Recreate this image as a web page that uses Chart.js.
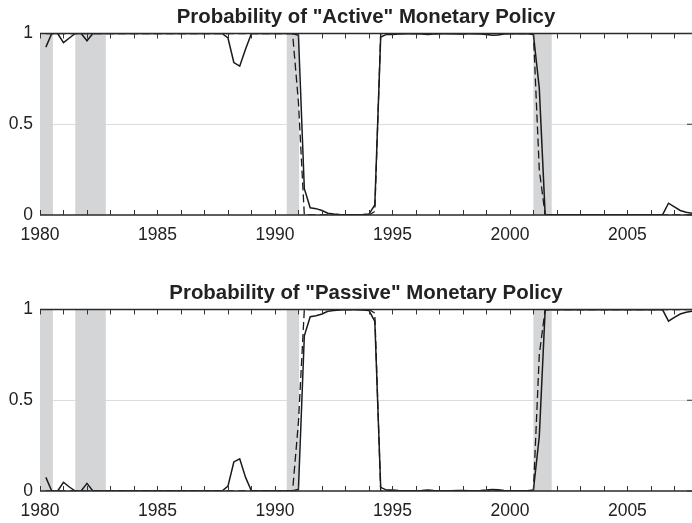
<!DOCTYPE html>
<html><head><meta charset="utf-8">
<script src="https://cdn.jsdelivr.net/npm/chart.js@4/dist/chart.umd.min.js"></script>
<style>
html,body{margin:0;padding:0;background:#fff;}
#wrap{width:692px;height:523px;position:relative;overflow:hidden;}
canvas{position:absolute;left:0;}
</style></head>
<body><div id="wrap">
<canvas id="c1" width="692" height="276" style="top:0"></canvas>
<canvas id="c2" width="692" height="247" style="top:276px"></canvas>
</div>
<script>
// ---- data (quarterly, first point 1980.25) ----
const firstQuarter = 1980.25;
const xTickLabels = [1980, 1985, 1990, 1995, 2000, 2005];
const yTickLabels = [0, 0.5, 1];
const recessionStart = [1980.0, 1981.5, 1990.5, 2001.0];
const recessionEnd   = [1980.55, 1982.8, 1991.03, 2001.78];
const titles = ['Probability of "Active" Monetary Policy', 'Probability of "Passive" Monetary Policy'];

const activeSolid = [
  0.925, 1.0, 1.0,                 // 1980
  0.95, 0.975, 1.0, 1.0,           // 1981
  0.96, 1.0, 1.0, 1.0,             // 1982
  1, 1, 1, 1,                      // 1983
  1, 1, 1, 1,                      // 1984
  1, 1, 1, 1,                      // 1985
  1, 1, 1, 1,                      // 1986
  1, 1, 1, 1,                      // 1987
  0.975, 0.84, 0.82, 0.915,        // 1988
  1, 1, 1, 1,                      // 1989
  1, 1, 1, 1,                      // 1990
  0.99, 0.145, 0.04, 0.035,        // 1991
  0.025, 0.01, 0.005, 0.003,       // 1992
  0.002, 0.002, 0.002, 0.003,      // 1993
  0.005, 0.055, 0.98, 0.995,       // 1994
  0.995, 0.997, 0.998, 0.998,      // 1995
  0.998, 0.997, 0.995, 0.997,      // 1996
  0.998, 0.998, 0.998, 0.997,      // 1997
  0.997, 0.998, 0.998, 0.997,      // 1998
  0.995, 0.99, 0.992, 0.997,       // 1999
  0.998, 0.998, 0.998, 0.998,      // 2000
  0.995, 0.70, 0.003, 0.002,       // 2001
  0.002, 0.001, 0.001, 0.001,      // 2002
  0.001, 0.001, 0.001, 0.001,      // 2003
  0.001, 0.001, 0.001, 0.001,      // 2004
  0.001, 0.001, 0.001, 0.001,      // 2005
  0.001, 0.001, 0.002, 0.065,      // 2006
  0.045, 0.025, 0.015, 0.01        // 2007
];
const activeDashed = [
  1, 1, 1,                         // 1980
  1, 1, 1, 1,  1, 1, 1, 1,  1, 1, 1, 1,  1, 1, 1, 1,   // 1981-1984
  1, 1, 1, 1,  1, 1, 1, 1,  1, 1, 1, 1,  1, 1, 1, 1,   // 1985-1988
  1, 1, 1, 1,  1, 1, 1, 1,         // 1989-1990
  0.62, 0.0, 0.0, 0.0,             // 1991
  0, 0, 0, 0,  0, 0, 0, 0,         // 1992-1993
  0.0, 0.02, 1.0, 1.0,             // 1994
  1, 1, 1, 1,  1, 1, 1, 1,  1, 1, 1, 1,   // 1995-1997
  1, 1, 1, 1,  1, 1, 1, 1,  1, 1, 1, 1,   // 1998-2000
  1.0, 0.25, 0.0, 0.0,             // 2001
  0, 0, 0, 0,  0, 0, 0, 0,  0, 0, 0, 0,   // 2002-2004
  0, 0, 0, 0,  0, 0, 0, 0,  0, 0, 0, 0    // 2005-2007
];
const passiveSolid = [
  0.075, 0.0, 0.0,                 // 1980
  0.048, 0.022, 0.0, 0.0,          // 1981
  0.042, 0.0, 0.0, 0.0,            // 1982
  0, 0, 0, 0,                      // 1983
  0, 0, 0, 0,                      // 1984
  0, 0, 0, 0,                      // 1985
  0, 0, 0, 0,                      // 1986
  0, 0, 0, 0,                      // 1987
  0.027, 0.16, 0.177, 0.075,       // 1988
  0, 0, 0, 0,                      // 1989
  0, 0, 0, 0,                      // 1990
  0.01, 0.855, 0.96, 0.965,        // 1991
  0.975, 0.99, 0.995, 0.997,       // 1992
  0.998, 0.998, 0.998, 0.997,      // 1993
  0.995, 0.935, 0.02, 0.005,       // 1994
  0.005, 0.003, 0.002, 0.002,      // 1995
  0.002, 0.003, 0.005, 0.003,      // 1996
  0.002, 0.002, 0.002, 0.003,      // 1997
  0.003, 0.002, 0.002, 0.003,      // 1998
  0.005, 0.008, 0.007, 0.003,      // 1999
  0.002, 0.002, 0.002, 0.002,      // 2000
  0.005, 0.30, 0.997, 0.998,       // 2001
  0.998, 0.999, 0.999, 0.999,      // 2002
  0.999, 0.999, 0.999, 0.999,      // 2003
  0.999, 0.999, 0.999, 0.999,      // 2004
  0.999, 0.999, 0.999, 0.999,      // 2005
  0.999, 0.999, 0.998, 0.936,      // 2006
  0.957, 0.975, 0.985, 0.99        // 2007
];
const passiveDashed = [
  0, 0, 0,                         // 1980
  0, 0, 0, 0,  0, 0, 0, 0,  0, 0, 0, 0,  0, 0, 0, 0,   // 1981-1984
  0, 0, 0, 0,  0, 0, 0, 0,  0, 0, 0, 0,  0, 0, 0, 0,   // 1985-1988
  0, 0, 0, 0,  0, 0, 0, 0,         // 1989-1990
  0.38, 1.0, 1.0, 1.0,             // 1991
  1, 1, 1, 1,  1, 1, 1, 1,         // 1992-1993
  1.0, 0.98, 0.0, 0.0,             // 1994
  0, 0, 0, 0,  0, 0, 0, 0,  0, 0, 0, 0,   // 1995-1997
  0, 0, 0, 0,  0, 0, 0, 0,  0, 0, 0, 0,   // 1998-2000
  0.0, 0.75, 1.0, 1.0,             // 2001
  1, 1, 1, 1,  1, 1, 1, 1,  1, 1, 1, 1,   // 2002-2004
  1, 1, 1, 1,  1, 1, 1, 1,  1, 1, 1, 1    // 2005-2007
];

// ---- rendering ----
const FONT = '"Liberation Sans", Arial, Helvetica, sans-serif';
const INK = '#222';
const TITLE_SIZE = 20.4;

function toPoints(vals) {
  return vals.map((v, i) => ({ x: firstQuarter + i * 0.25, y: v }));
}

const framePlugin = {
  id: 'frame',
  beforeDatasetsDraw(chart) {
    const { ctx, chartArea: a, scales: { x } } = chart;
    ctx.save();
    ctx.fillStyle = '#d4d5d7';
    recessionStart.forEach((s, i) => {
      const x0 = x.getPixelForValue(s);
      const x1 = x.getPixelForValue(recessionEnd[i]);
      ctx.fillRect(x0, a.top, x1 - x0, a.bottom - a.top);
    });
    ctx.restore();
  },
  afterDatasetsDraw(chart) {
    const { ctx, chartArea: a, scales: { x, y } } = chart;
    const y0 = y.getPixelForValue(0), y1 = y.getPixelForValue(1);
    ctx.save();
    ctx.strokeStyle = '#2a2a2a';
    ctx.lineWidth = 1.4;
    ctx.beginPath();
    ctx.moveTo(a.left, y0); ctx.lineTo(a.right, y0);
    ctx.moveTo(a.left, y1); ctx.lineTo(a.right, y1);
    ctx.stroke();
    ctx.lineWidth = 1;
    ctx.strokeStyle = '#333';
    ctx.beginPath();
    for (let yr = xTickLabels[0]; yr <= x.max; yr++) {
      const px = Math.round(x.getPixelForValue(yr)) + 0.5;
      ctx.moveTo(px, y0); ctx.lineTo(px, y0 - 5);
      ctx.moveTo(px, y1); ctx.lineTo(px, y1 + 5);
    }
    yTickLabels.forEach(v => {
      const py = y.getPixelForValue(v);
      ctx.moveTo(a.right - 5, py); ctx.lineTo(a.right, py);
    });
    ctx.stroke();
    ctx.restore();
  },
  afterDraw(chart) {
    // title centred over the plot area (Chart.js title box is used for spacing)
    const { ctx, chartArea: a } = chart;
    const tb = chart.titleBlock;
    const txt = chart.options.plugins.title.text;
    const cy = tb.top + 5 + (TITLE_SIZE * 1.2) / 2;
    ctx.save();
    ctx.font = 'bold ' + TITLE_SIZE + 'px ' + FONT;
    ctx.fillStyle = INK;
    ctx.textAlign = 'center';
    ctx.textBaseline = 'middle';
    ctx.fillText(txt, (a.left + a.right) / 2, cy);
    ctx.restore();
  }
};

function makeChart(id, title, solid, dashed, bottomPad) {
  return new Chart(document.getElementById(id), {
    type: 'line',
    data: {
      datasets: [
        { data: toPoints(dashed), borderColor: '#1a1a1a', borderWidth: 1.3, borderDash: [8, 4], pointRadius: 0, tension: 0, fill: false },
        { data: toPoints(solid), borderColor: '#1a1a1a', borderWidth: 1.5, pointRadius: 0, tension: 0, fill: false }
      ]
    },
    options: {
      responsive: false,
      animation: false,
      devicePixelRatio: 1,
      layout: { padding: { left: 0, right: 0, top: 0, bottom: bottomPad } },
      plugins: {
        legend: { display: false },
        tooltip: { enabled: false },
        title: {
          display: true, text: title, color: 'rgba(0,0,0,0)',
          font: { family: FONT, size: TITLE_SIZE, weight: 'bold', lineHeight: 1.2 },
          padding: { top: 5, bottom: 4 }
        }
      },
      scales: {
        x: {
          type: 'linear', min: 1980, max: 2007.75,
          afterBuildTicks: s => { s.ticks = xTickLabels.map(v => ({ value: v })); },
          afterFit: s => { s.height = 30; },
          grid: { display: false },
          border: { display: false },
          ticks: { color: INK, font: { family: FONT, size: 17.5 }, padding: 2, maxRotation: 0, callback: v => String(v) }
        },
        y: {
          min: 0, max: 1,
          afterBuildTicks: s => { s.ticks = yTickLabels.map(v => ({ value: v })); },
          afterFit: s => { s.width = 40; },
          grid: {
            drawTicks: false,
            color: c => (c.tick && c.tick.value === 0.5) ? '#dcdcdc' : 'rgba(0,0,0,0)',
            lineWidth: 1
          },
          border: { display: false },
          ticks: { color: INK, font: { family: FONT, size: 17.5 }, padding: 7, callback: v => String(v) }
        }
      }
    },
    plugins: [framePlugin]
  });
}

makeChart('c1', titles[0], activeSolid, activeDashed, 31);
makeChart('c2', titles[1], passiveSolid, passiveDashed, 2);
</script>
</body></html>
